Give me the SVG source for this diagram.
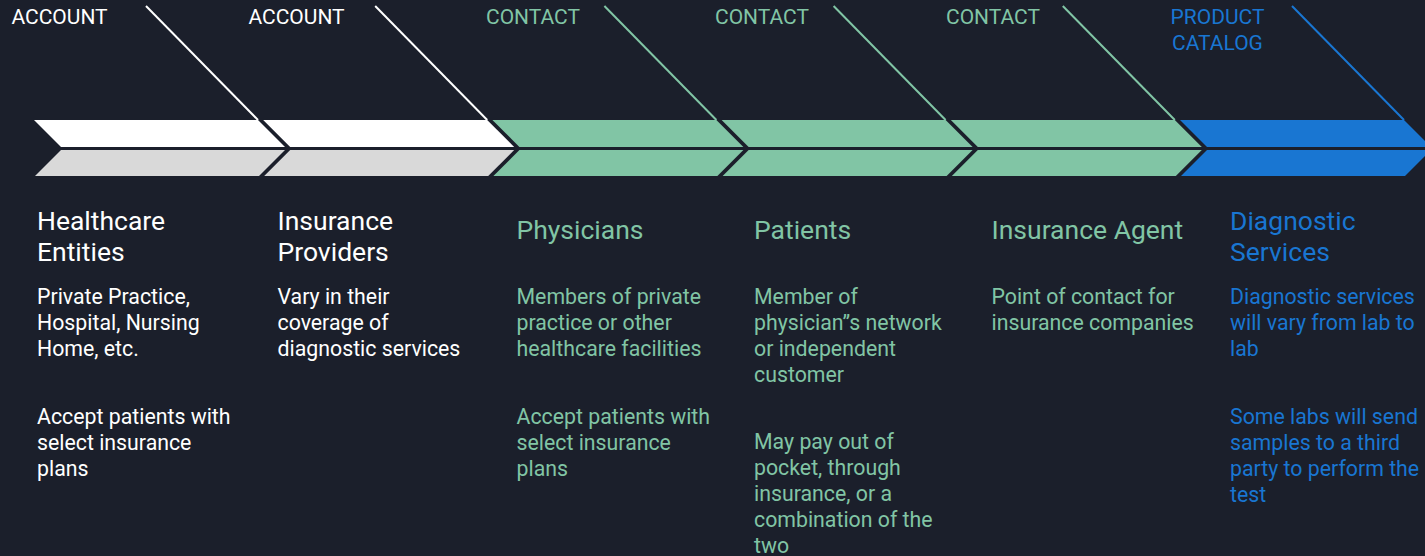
<svg xmlns="http://www.w3.org/2000/svg" width="1425" height="556" viewBox="0 0 1425 556">
  <style>
    .bg { fill: #1b1f2b; }
    .lbl { font-family: Roboto, "Liberation Sans", sans-serif; font-size: 21px; text-anchor: middle; }
    .ttl { font-family: Roboto, "Liberation Sans", sans-serif; font-size: 26.5px; }
    .body { font-family: Roboto, "Liberation Sans", sans-serif; font-size: 21.3px; }
    .acc-top { fill: #ffffff; }
    .acc-bot { fill: #d9d9d9; }
    .con { fill: #81c5a5; }
    .prd { fill: #1976d2; }
    .t-acc { fill: #ffffff; }
    .t-con { fill: #81c5a5; }
    .t-prd { fill: #1976d2; }
    .ln { fill: none; stroke-width: 2; stroke-linecap: butt; }
    .ln-acc { stroke: #ffffff; }
    .ln-con { stroke: #81c5a5; }
    .ln-prd { stroke: #1976d2; }
  </style>
  <defs>
    <!-- one chevron, split into an upper and a lower band -->
    <polygon id="chev-top" points="0,120 224,120 251,147 27,147"/>
    <polygon id="chev-bot" points="27,150 251,150 225,176 1,176"/>
  </defs>

  <rect class="bg" x="0" y="0" width="1425" height="556"/>

  <!-- leader lines from each label down to its chevron -->
  <g id="connectors">
    <line class="ln ln-acc" x1="146" y1="6" x2="258" y2="120"/>
    <line class="ln ln-acc" x1="375.2" y1="6" x2="487.2" y2="120"/>
    <line class="ln ln-con" x1="604.4" y1="6" x2="716.4" y2="120"/>
    <line class="ln ln-con" x1="833.6" y1="6" x2="945.6" y2="120"/>
    <line class="ln ln-con" x1="1062.8" y1="6" x2="1174.8" y2="120"/>
    <line class="ln ln-prd" x1="1292" y1="6" x2="1404" y2="120"/>
  </g>

  <g id="healthcare-entities">
    <text class="lbl t-acc" x="59.5" y="24">ACCOUNT</text>
    <g transform="translate(34,0)">
      <use href="#chev-top" class="acc-top"/>
      <use href="#chev-bot" class="acc-bot"/>
    </g>
    <text class="ttl t-acc" x="37" y="230">Healthcare</text>
    <text class="ttl t-acc" x="37" y="261">Entities</text>
    <text class="body t-acc" x="37" y="304">Private Practice,</text>
    <text class="body t-acc" x="37" y="330">Hospital, Nursing</text>
    <text class="body t-acc" x="37" y="356">Home, etc.</text>
    <text class="body t-acc" x="37" y="424">Accept patients with</text>
    <text class="body t-acc" x="37" y="450">select insurance</text>
    <text class="body t-acc" x="37" y="476">plans</text>
  </g>

  <g id="insurance-providers">
    <text class="lbl t-acc" x="296.5" y="24">ACCOUNT</text>
    <g transform="translate(263.2,0)">
      <use href="#chev-top" class="acc-top"/>
      <use href="#chev-bot" class="acc-bot"/>
    </g>
    <text class="ttl t-acc" x="277.5" y="230">Insurance</text>
    <text class="ttl t-acc" x="277.5" y="261">Providers</text>
    <text class="body t-acc" x="277.5" y="304">Vary in their</text>
    <text class="body t-acc" x="277.5" y="330">coverage of</text>
    <text class="body t-acc" x="277.5" y="356">diagnostic services</text>
  </g>

  <g id="physicians">
    <text class="lbl t-con" x="533" y="24">CONTACT</text>
    <g transform="translate(492.4,0)" class="con">
      <use href="#chev-top"/>
      <use href="#chev-bot"/>
    </g>
    <text class="ttl t-con" x="516.5" y="239">Physicians</text>
    <text class="body t-con" x="516.5" y="304">Members of private</text>
    <text class="body t-con" x="516.5" y="330">practice or other</text>
    <text class="body t-con" x="516.5" y="356">healthcare facilities</text>
    <text class="body t-con" x="516.5" y="424">Accept patients with</text>
    <text class="body t-con" x="516.5" y="450">select insurance</text>
    <text class="body t-con" x="516.5" y="476">plans</text>
  </g>

  <g id="patients">
    <text class="lbl t-con" x="762" y="24">CONTACT</text>
    <g transform="translate(721.6,0)" class="con">
      <use href="#chev-top"/>
      <use href="#chev-bot"/>
    </g>
    <text class="ttl t-con" x="754" y="239">Patients</text>
    <text class="body t-con" x="754" y="304">Member of</text>
    <text class="body t-con" x="754" y="330">physician”s network</text>
    <text class="body t-con" x="754" y="356">or independent</text>
    <text class="body t-con" x="754" y="382">customer</text>
    <text class="body t-con" x="754" y="449">May pay out of</text>
    <text class="body t-con" x="754" y="475">pocket, through</text>
    <text class="body t-con" x="754" y="501">insurance, or a</text>
    <text class="body t-con" x="754" y="527">combination of the</text>
    <text class="body t-con" x="754" y="553">two</text>
  </g>

  <g id="insurance-agent">
    <text class="lbl t-con" x="993" y="24">CONTACT</text>
    <g transform="translate(950.8,0)" class="con">
      <use href="#chev-top"/>
      <use href="#chev-bot"/>
    </g>
    <text class="ttl t-con" x="991.5" y="239">Insurance Agent</text>
    <text class="body t-con" x="991.5" y="304">Point of contact for</text>
    <text class="body t-con" x="991.5" y="330">insurance companies</text>
  </g>

  <g id="diagnostic-services">
    <text class="lbl t-prd" x="1217.5" y="24">PRODUCT</text>
    <text class="lbl t-prd" x="1217.5" y="50">CATALOG</text>
    <g transform="translate(1180,0)" class="prd">
      <use href="#chev-top"/>
      <use href="#chev-bot"/>
    </g>
    <text class="ttl t-prd" x="1230" y="230">Diagnostic</text>
    <text class="ttl t-prd" x="1230" y="261">Services</text>
    <text class="body t-prd" x="1230" y="304">Diagnostic services</text>
    <text class="body t-prd" x="1230" y="330">will vary from lab to</text>
    <text class="body t-prd" x="1230" y="356">lab</text>
    <text class="body t-prd" x="1230" y="424">Some labs will send</text>
    <text class="body t-prd" x="1230" y="450">samples to a third</text>
    <text class="body t-prd" x="1230" y="476">party to perform the</text>
    <text class="body t-prd" x="1230" y="502">test</text>
  </g>
</svg>
